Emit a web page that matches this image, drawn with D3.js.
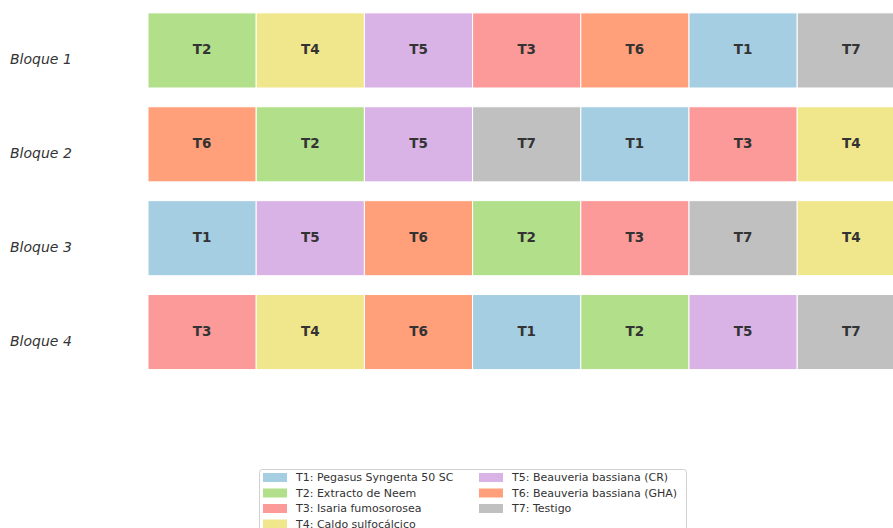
<!DOCTYPE html>
<html>
<head>
<meta charset="utf-8">
<script src="https://cdn.jsdelivr.net/npm/d3@7"></script>
<style>
  body { margin: 0; background: #fff; }
  svg { display: block; font-family: "DejaVu Sans", sans-serif; }
</style>
</head>
<body>
<svg id="chart" width="893" height="528"></svg>
<script>
// data
const blocks = ["Bloque 1", "Bloque 2", "Bloque 3", "Bloque 4"];
const positions = [0, 1, 2, 3, 4, 5, 6];
const block1 = ["T2", "T4", "T5", "T3", "T6", "T1", "T7"];
const block2 = ["T6", "T2", "T5", "T7", "T1", "T3", "T4"];
const block3 = ["T1", "T5", "T6", "T2", "T3", "T7", "T4"];
const block4 = ["T3", "T4", "T6", "T1", "T2", "T5", "T7"];
const treatments = ["T1", "T2", "T3", "T4", "T5", "T6", "T7"];
const treatmentNames = [
  "T1: Pegasus Syngenta 50 SC",
  "T2: Extracto de Neem",
  "T3: Isaria fumosorosea",
  "T4: Caldo sulfocálcico",
  "T5: Beauveria bassiana (CR)",
  "T6: Beauveria bassiana (GHA)",
  "T7: Testigo"
];
const colors = ["#a6cee3", "#b2df8a", "#fb9a99", "#f0e68c", "#d9b3e6", "#ffa07a", "#c0c0c0"];

const layout = [block1, block2, block3, block4];

const svg = d3.select("#chart");

const x = d3.scaleBand().domain(positions).range([148, 148 + 7 * 108.2]).padding(0);
const y = d3.scaleBand().domain(blocks).range([3.5, 379]).paddingInner(0.2).paddingOuter(0.1);
const color = d3.scaleOrdinal().domain(treatments).range(colors);

// cells
const cells = [];
layout.forEach((row, i) => {
  row.forEach((t, j) => cells.push({ block: blocks[i], pos: j, t: t }));
});

const g = svg.append("g");
g.selectAll("rect.cell")
  .data(cells)
  .enter().append("rect")
  .attr("class", "cell")
  .attr("x", d => x(d.pos))
  .attr("y", d => y(d.block))
  .attr("width", x.bandwidth())
  .attr("height", y.bandwidth())
  .attr("fill", d => color(d.t))
  .attr("stroke", "#fff")
  .attr("stroke-width", 1);

g.selectAll("text.cell-label")
  .data(cells)
  .enter().append("text")
  .attr("class", "cell-label")
  .attr("x", d => x(d.pos) + x.bandwidth() / 2)
  .attr("y", d => y(d.block) + y.bandwidth() / 2 - 1)
  .attr("text-anchor", "middle")
  .attr("dominant-baseline", "central")
  .attr("font-size", "13.5px")
  .attr("font-weight", "bold")
  .attr("fill", "#333")
  .text(d => d.t);

// block labels (sit a little below the row centre, as in the reference)
svg.selectAll("text.block")
  .data(blocks)
  .enter().append("text")
  .attr("class", "block")
  .attr("x", 10)
  .attr("y", d => y(d) + y.bandwidth() / 2 + 9)
  .attr("dominant-baseline", "central")
  .attr("font-size", "14px")
  .attr("font-style", "italic")
  .attr("fill", "#333")
  .text(d => d);

// legend (cut off by the bottom edge, like the reference)
const legend = svg.append("g").attr("transform", "translate(259,469)");
legend.append("rect")
  .attr("x", 0.5).attr("y", 0.5)
  .attr("width", 427).attr("height", 70)
  .attr("rx", 3)
  .attr("fill", "#fff")
  .attr("stroke", "#d0d0d0");

const items = legend.selectAll("g.item")
  .data(treatmentNames)
  .enter().append("g")
  .attr("class", "item")
  .attr("transform", (d, i) => {
    const col = i < 4 ? 0 : 1;
    const row = i < 4 ? i : i - 4;
    return "translate(" + (col === 0 ? 4 : 220) + "," + (4 + row * 15.5) + ")";
  });

items.append("rect")
  .attr("width", 24).attr("height", 9)
  .attr("fill", (d, i) => colors[i]);

items.append("text")
  .attr("x", 33)
  .attr("y", 4.5)
  .attr("dominant-baseline", "central")
  .attr("font-size", "11px")
  .attr("fill", "#333")
  .text(d => d);
</script>
</body>
</html>
